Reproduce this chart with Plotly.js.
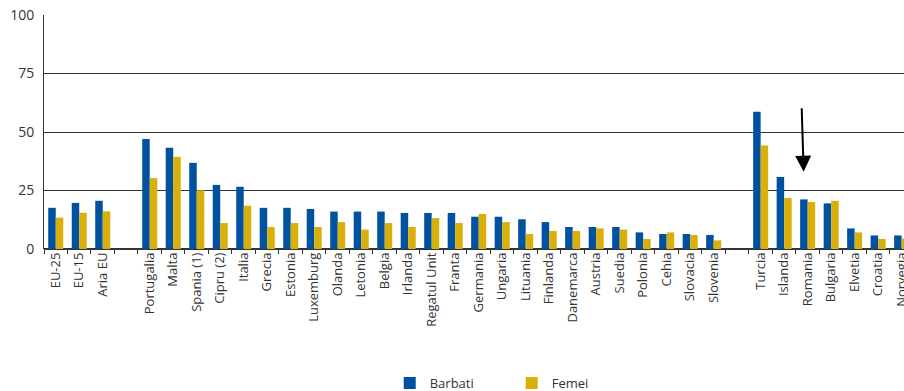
<!DOCTYPE html>
<html>
<head>
<meta charset="utf-8">
<script src="https://cdn.plot.ly/plotly-3.0.1.min.js"></script>
<style>html,body{margin:0;padding:0;background:#fff;overflow:hidden}</style>
</head>
<body>
<div id="chart" style="width:904px;height:391px"></div>
<script>
const categories = ["EU-25","EU-15","Aria EU"," ","Portugalia","Malta","Spania (1)","Cipru (2)","Italia","Grecia","Estonia","Luxemburg","Olanda","Letonia","Belgia","Irlanda","Regatul Unit","Franta","Germania","Ungaria","Lituania","Finlanda","Danemarca","Austria","Suedia","Polonia","Cehia","Slovacia","Slovenia","  ","Turcia","Islanda","Romania","Bulgaria","Elvetia","Croatia","Norvegia"];
const barbati = [17.6,19.7,20.6,null,47.0,43.3,36.8,27.4,26.6,17.6,17.6,17.1,16.0,16.0,16.0,15.4,15.4,15.4,13.8,13.8,12.7,11.5,9.4,9.4,9.4,7.1,6.4,6.4,6.0,null,58.7,30.8,21.2,19.5,8.8,5.8,5.8];
const femei = [13.4,15.5,16.1,null,30.3,39.4,25.1,11.1,18.5,9.4,11.1,9.4,11.5,8.3,11.1,9.4,13.2,11.1,15.0,11.5,6.4,7.7,7.7,8.8,8.3,4.3,7.1,6.0,3.7,null,44.2,21.8,20.1,20.6,7.1,4.3,4.5];
const seriesNames = ["Barbati","Femei"];
const yTicks = [0,25,50,75,100];

const font = {family: "'Open Sans', 'DejaVu Sans', sans-serif", size: 13, color: "#333"};

const traces = [
  {type:"bar", name:seriesNames[0], x:categories, y:barbati, marker:{color:"#0052a0", line:{width:0}}},
  {type:"bar", name:seriesNames[1], x:categories, y:femei, marker:{color:"#d9b00a", line:{width:0}}}
];

const layout = {
  width:904, height:391,
  margin:{l:44, r:0, t:15, b:142, autoexpand:false},
  paper_bgcolor:"#fff", plot_bgcolor:"#fff",
  font:font,
  barmode:"group", bargap:0.36, bargroupgap:0,
  xaxis:{
    type:"category", categoryorder:"array", categoryarray:categories,
    range:[-0.5, 36.1],
    tickangle:-90, tickson:"boundaries", ticks:"outside", ticklen:4, tickcolor:"#333",
    showgrid:false, showline:false, zeroline:false,
    tickfont:{family:font.family, size:13, color:"#333"}
  },
  yaxis:{
    range:[0,100], tickvals:yTicks, ticktext:yTicks.map(String),
    showgrid:true, gridcolor:"#333", gridwidth:1,
    zeroline:true, zerolinecolor:"#333", zerolinewidth:2,
    showline:true, linecolor:"#333", linewidth:1,
    ticks:"", ticklabelstandoff:6,
    tickfont:{family:font.family, size:14, color:"#333"}
  },
  showlegend:true,
  legend:{orientation:"h", x:0.402, xanchor:"left", y:-0.573, yanchor:"middle",
    entrywidth:77, entrywidthmode:"pixels",
    font:{family:font.family, size:13, color:"#333"}, bgcolor:"rgba(0,0,0,0)"},
  annotations:[{
    x:"Romania", y:33, xref:"x", yref:"y", xshift:-4,
    text:"", showarrow:true, arrowhead:2, arrowsize:1.6, arrowwidth:2, arrowcolor:"#000",
    ax:-2, ay:-65
  }]
};

Plotly.newPlot("chart", traces, layout, {displayModeBar:false, staticPlot:true});
</script>
</body>
</html>
